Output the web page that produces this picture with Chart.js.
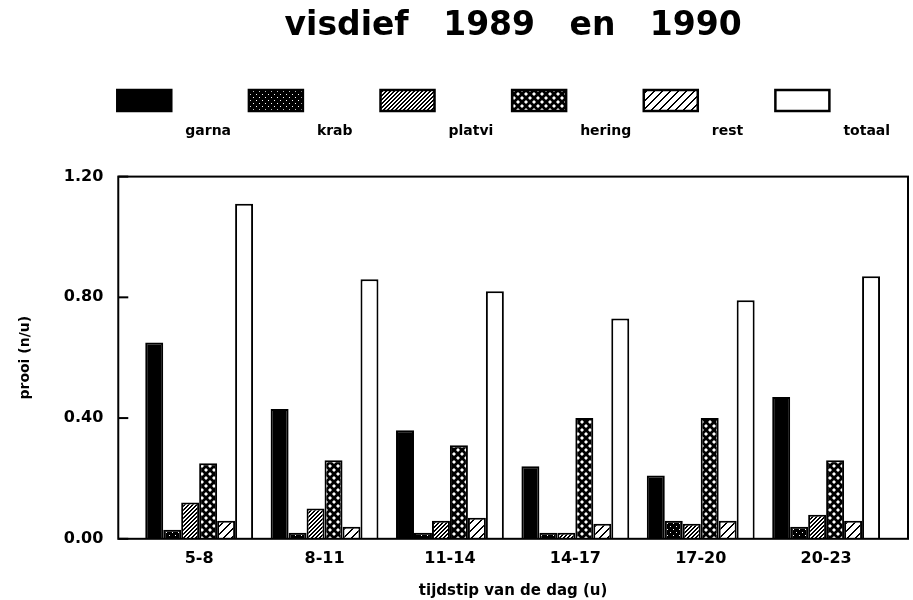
<!DOCTYPE html>
<html>
<head>
<meta charset="utf-8">
<script src="https://cdn.jsdelivr.net/npm/chart.js@4"></script>
<style>
  html, body { margin: 0; padding: 0; background: #fff; }
  #wrap { width: 913px; height: 600px; }
</style>
</head>
<body>
<div id="wrap"><canvas id="myChart"></canvas></div>
<script>
var categories = ["5-8", "8-11", "11-14", "14-17", "17-20", "20-23"];
var garna  = [0.65, 0.43, 0.36, 0.24, 0.21, 0.47];
var krab   = [0.03, 0.02, 0.02, 0.02, 0.06, 0.04];
var platvi = [0.12, 0.10, 0.06, 0.02, 0.05, 0.08];
var hering = [0.25, 0.26, 0.31, 0.40, 0.40, 0.26];
var rest   = [0.06, 0.04, 0.07, 0.05, 0.06, 0.06];
var totaal = [1.11, 0.86, 0.82, 0.73, 0.79, 0.87];
var seriesNames = ["garna", "krab", "platvi", "hering", "rest", "totaal"];
var yTicks = [0, 0.4, 0.8, 1.2];

var FONT = "'DejaVu Sans', sans-serif";

// little tiles for the black & white fills
function makePattern(size, drawFn) {
  var c = document.createElement('canvas');
  c.width = size; c.height = size;
  var g = c.getContext('2d');
  drawFn(g, size);
  return g.createPattern(c, 'repeat');
}

function pixelPattern(size, isBlack) {
  return makePattern(size, function (g, s) {
    g.fillStyle = '#fff';
    g.fillRect(0, 0, s, s);
    g.fillStyle = '#000';
    for (var x = 0; x < s; x++) {
      for (var y = 0; y < s; y++) {
        if (isBlack(x, y)) g.fillRect(x, y, 1, 1);
      }
    }
  });
}

var fills = [
  '#000',
  // krab: black with specks
  pixelPattern(6, function (x, y) { return !((x == 1 && y == 1) || (x == 4 && y == 4)); }),
  // platvi: fine hatch
  pixelPattern(4, function (x, y) { return (x + y) % 4 < 2; }),
  // hering: black with white diamonds
  makePattern(8, function (g, s) {
    g.fillStyle = '#000';
    g.fillRect(0, 0, s, s);
    g.fillStyle = '#fff';
    [[2, 2], [6, 6]].forEach(function (p) {
      g.beginPath();
      g.moveTo(p[0], p[1] - 2); g.lineTo(p[0] + 2, p[1]);
      g.lineTo(p[0], p[1] + 2); g.lineTo(p[0] - 2, p[1]);
      g.closePath(); g.fill();
    });
  }),
  // rest: coarse hatch
  pixelPattern(8, function (x, y) { return (x + y) % 8 < 2; }),
  '#fff'
];

var allSeries = [garna, krab, platvi, hering, rest, totaal];
var datasets = allSeries.map(function (vals, k) {
  return {
    label: seriesNames[k],
    data: vals.map(function (v, i) { return { x: i, y: v }; }),
    backgroundColor: fills[k],
    borderColor: '#000',
    borderWidth: 2,
    borderSkipped: 'start'
  };
});

// box, inward y ticks and the hand-made legend
var framePlugin = {
  id: 'frame',
  afterDraw: function (chart) {
    var ctx = chart.ctx;
    var a = chart.chartArea;
    var ys = chart.scales.y;
    ctx.save();
    ctx.strokeStyle = '#000';
    ctx.lineWidth = 2;
    ctx.strokeRect(a.left, a.top, a.right - a.left, a.bottom - a.top);
    yTicks.forEach(function (t) {
      var py = ys.getPixelForValue(t);
      ctx.beginPath();
      ctx.moveTo(a.left, py);
      ctx.lineTo(a.left + 10, py);
      ctx.stroke();
    });

    var step = (a.right - a.left) / 6;
    ctx.font = 'bold 14px ' + FONT;
    ctx.textBaseline = 'middle';
    ctx.textAlign = 'left';
    chart.data.datasets.forEach(function (ds, i) {
      var bx = a.left - 1 + i * step;
      var by = 90;
      ctx.fillStyle = ds.backgroundColor;
      ctx.fillRect(bx, by, 54, 21);
      ctx.lineWidth = 2.5;
      ctx.strokeRect(bx, by, 54, 21);
      ctx.fillStyle = '#000';
      ctx.fillText(ds.label, bx + 68, 131);
    });
    ctx.restore();
  }
};

var ctx = document.getElementById("myChart").getContext('2d');
var chart = new Chart(ctx, {
  type: 'bar',
  data: { datasets: datasets },
  plugins: [framePlugin],
  options: {
    responsive: true,
    maintainAspectRatio: false,
    animation: false,
    layout: { padding: { top: 0, right: 5, bottom: 0, left: 8 } },
    categoryPercentage: 0.86,
    barPercentage: 1.0,
    plugins: {
      legend: { display: false },
      tooltip: { enabled: false },
      title: {
        display: true,
        text: 'visdief   1989   en   1990',
        fullSize: false,
        color: '#000',
        font: { family: FONT, size: 33, weight: 'bold' },
        padding: { top: 7, bottom: 130 }
      }
    },
    scales: {
      x: {
        type: 'linear',
        offset: false,
        min: -0.645,
        max: 5.653,
        bounds: 'data',
        grid: { display: false, drawTicks: false, offset: false },
        border: { display: false },
        afterBuildTicks: function (s) {
          s.ticks = categories.map(function (c, i) { return { value: i }; });
        },
        ticks: {
          color: '#000',
          padding: 10,
          font: { family: FONT, size: 16, weight: 'bold' },
          callback: function (v) { return categories[v]; }
        },
        title: {
          display: true,
          text: 'tijdstip van de dag (u)',
          color: '#000',
          font: { family: FONT, size: 15, weight: 'bold' },
          padding: { top: 4, bottom: 0 }
        }
      },
      y: {
        min: 0,
        max: 1.2,
        grid: { display: false, drawTicks: false },
        border: { display: false },
        afterBuildTicks: function (s) {
          s.ticks = yTicks.map(function (v) { return { value: v }; });
        },
        ticks: {
          color: '#000',
          padding: 15,
          font: { family: FONT, size: 16, weight: 'bold' },
          callback: function (v) { return Number(v).toFixed(2); }
        },
        title: {
          display: true,
          text: 'prooi (n/u)',
          color: '#000',
          font: { family: FONT, size: 14, weight: 'bold' },
          padding: { top: 9, bottom: 15 }
        }
      }
    }
  }
});
</script>
</body>
</html>
